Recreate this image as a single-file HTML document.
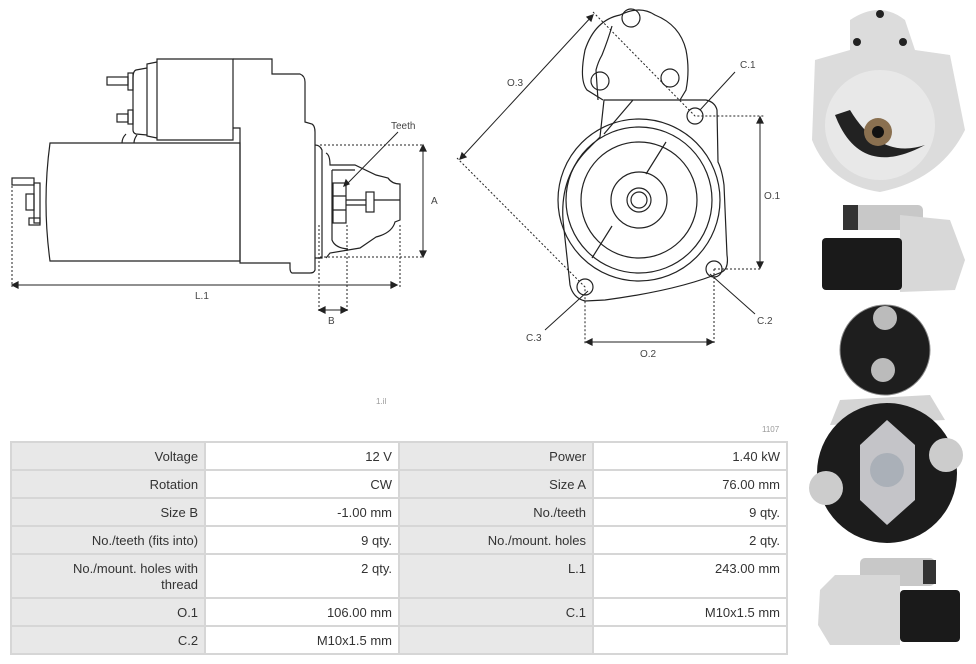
<!DOCTYPE html>
<html><head><meta charset="utf-8"><style>
html,body{margin:0;padding:0;background:#fff;width:976px;height:664px;overflow:hidden;position:relative;font-family:"Liberation Sans",sans-serif}
svg{position:absolute;left:0;top:0}
table{position:absolute;left:10px;top:441px;border-collapse:collapse;width:778px;font-size:13px;color:#333}
td{border:2px solid #d6d6d6;padding:0 6px;text-align:right;height:26px;vertical-align:middle;width:181px}
td.l{background:#e8e8e8}
tr.tall td{height:36px;vertical-align:top;padding-top:6px;line-height:16px}
</style></head><body>
<svg width="976" height="664" viewBox="0 0 976 664" fill="none" stroke="#222" stroke-width="1.2">
<!-- LEFT DRAWING -->
<path d="M50 143 L240 143 L240 261 L50 261 Q42 202 50 143 Z" fill="#fff"/>
<path d="M157 59 L233 59 L233 140 L157 140 Z"/>
<path d="M157 62 L147 64 L147 136 L157 138"/>
<path d="M147 68 L136 70 Q133 71 133 78 L133 130 Q133 133 136 134 L147 135"/>
<rect x="128" y="73" width="5" height="17"/><rect x="107" y="77" width="21" height="8"/>
<rect x="128" y="110" width="5" height="14"/><rect x="117" y="114" width="11" height="8"/>
<path d="M126 134 Q122 138 122 143 M137 135 Q134 139 134 143"/>
<path d="M233 59 L272 59 L272 74 L300 74 Q305 76 305 82 L305 122 L312 124 Q315 126 315 132 L315 270 Q314 273 310 273 L292 273 Q290 272 290 268 L290 263 L240 263 L240 128 L233 128"/>
<path d="M315 145 Q320 145 322 150 L322 258 L315 258"/>
<path d="M326 153 Q330 155 330 165 L355 165 L376 175 L388 178 Q392 184 400 184 L400 220 L395 222 Q392 233 376 237 L360 248 L330 253 Q326 258 326 258"/>
<path d="M332 170 L332 240 Q335 248 348 249 M332 170 L355 170"/>
<rect x="333" y="183" width="13" height="40"/><path d="M333 196 L346 196 M333 210 L346 210"/>
<rect x="366" y="192" width="8" height="20"/><path d="M346 200 L366 200 M346 205 L366 205 M374 200 L400 200"/>
<rect x="34" y="183" width="6" height="40"/><rect x="26" y="194" width="8" height="16"/>
<rect x="12" y="178" width="22" height="7"/><rect x="29" y="218" width="11" height="7"/>
<g stroke-dasharray="2,2" stroke-width="1"><path d="M12 186 L12 287 M320 145 L423 145 M320 257 L423 257 M319 225 L319 312 M347 225 L347 312 M400 225 L400 287"/></g>
<path d="M423 148 L423 254 M13 285 L396 285 M320 310 L345 310" stroke-width="1"/>
<path d="M423 145 l-3 6 h6z M423 257 l-3 -6 h6z M12 285 l6 -3 v6z M397 285 l-6 -3 v6z M319 310 l6 -3 v6z M347 310 l-6 -3 v6z M344 186 l2 -6 l3 4z" fill="#222"/>
<path d="M345 186 L398 132" stroke-width="1"/>
<!-- RIGHT DRAWING -->
<path d="M633 100 L706 100 Q715 102 717 110 L718 162 Q722 170 724 185 L727 255 Q729 268 722 272 Q680 290 605 300 L585 301 Q573 298 570 285 L563 220 Q560 175 590 147 L600 137 L604 100 Z M604 134 L633 100" fill="#fff"/>
<path d="M603 100 L587 90 Q579 80 585 50 Q595 20 620 15 Q640 5 655 15 Q680 25 686 50 Q690 70 686 90 L680 100"/>
<path d="M612 26 Q608 40 602 55 Q598 62 596 70 L598 100" />
<circle cx="631" cy="18" r="9"/><circle cx="600" cy="81" r="9"/><circle cx="670" cy="78" r="9"/>
<circle cx="639" cy="200" r="81"/><circle cx="639" cy="200" r="73"/><circle cx="639" cy="200" r="58"/><circle cx="639" cy="200" r="28"/><circle cx="639" cy="200" r="12"/><circle cx="639" cy="200" r="8"/>
<path d="M666 142 L646 174 M612 226 L592 258"/>
<circle cx="695" cy="116" r="8"/><circle cx="714" cy="269" r="8"/><circle cx="585" cy="287" r="8"/>
<g stroke-dasharray="2,2" stroke-width="1"><path d="M593 12 L695 116 L765 116 M457 158 L585 287 L585 345 M714 269 L762 269 M714 269 L714 345"/></g>
<path d="M760 120 L760 265 M589 342 L710 342 M593 15 L462 157 M700 110 L735 72 M710 274 L755 314 M588 291 L545 330" stroke-width="1"/>
<path d="M760 117 l-3 6 h6z M760 268 l-3 -6 h6z M586 342 l6 -3 v6z M713 342 l-6 -3 v6z M593 15 l-6 2 l4 4z M460 159 l6 -2 l-4 -4z" fill="#222"/>
<g fill="#444" stroke="none" font-size="10" font-family="Liberation Sans,sans-serif">
<text x="391" y="129">Teeth</text><text x="431" y="204">A</text><text x="195" y="299">L.1</text><text x="328" y="324">B</text>
<text x="507" y="86">O.3</text><text x="740" y="68">C.1</text><text x="764" y="199">O.1</text><text x="757" y="324">C.2</text><text x="640" y="357">O.2</text><text x="526" y="341">C.3</text>
<text x="376" y="404" font-size="8" fill="#999">1.il</text><text x="762" y="432" font-size="8" fill="#999">1107</text>
</g>
<!-- PHOTOS -->
<g stroke="none">
<path d="M850 20 Q880 0 905 20 L915 50 L950 55 L965 130 Q940 180 880 192 Q830 185 812 140 L815 60 L850 50 Z" fill="#dcdcdc"/>
<circle cx="880" cy="125" r="55" fill="#e8e8e8"/>
<path d="M835 115 Q860 180 925 145 Q880 160 850 110 Z" fill="#222"/>
<circle cx="878" cy="132" r="14" fill="#8a7050"/><circle cx="878" cy="132" r="6" fill="#111"/>
<circle cx="880" cy="14" r="4" fill="#222"/><circle cx="857" cy="42" r="4" fill="#222"/><circle cx="903" cy="42" r="4" fill="#222"/>
<rect x="843" y="205" width="80" height="25" rx="5" fill="#c8c8c8"/><rect x="843" y="205" width="15" height="25" fill="#333"/>
<path d="M900 215 L950 220 L965 260 L955 290 L900 292 Z" fill="#d8d8d8"/>
<rect x="822" y="238" width="80" height="52" rx="4" fill="#1a1a1a"/>
<circle cx="885" cy="350" r="45" fill="#1e1e1e"/><circle cx="885" cy="350" r="45" fill="none" stroke="#888" stroke-width="1"/>
<circle cx="885" cy="318" r="12" fill="#bbb"/><circle cx="883" cy="370" r="12" fill="#bbb"/>
<path d="M840 400 L930 395 L945 420 L830 425 Z" fill="#d4d4d4"/>
<circle cx="887" cy="473" r="70" fill="#1c1c1c"/>
<path d="M887 420 L915 445 L915 500 L887 525 L860 500 L860 445 Z" fill="#c4c4c8"/>
<circle cx="887" cy="470" r="17" fill="#aab0b8"/>
<circle cx="826" cy="488" r="17" fill="#ccc"/><circle cx="946" cy="455" r="17" fill="#ccc"/>
<rect x="860" y="558" width="75" height="28" rx="5" fill="#c8c8c8"/><rect x="923" y="560" width="13" height="24" fill="#333"/>
<path d="M820 590 L835 575 L900 575 L900 645 L830 645 L818 625 Z" fill="#d8d8d8"/>
<rect x="900" y="590" width="60" height="52" rx="4" fill="#1a1a1a"/>
</g>
</svg>
<table>
<tr><td class="l">Voltage</td><td>12 V</td><td class="l">Power</td><td>1.40 kW</td></tr>
<tr><td class="l">Rotation</td><td>CW</td><td class="l">Size A</td><td>76.00 mm</td></tr>
<tr><td class="l">Size B</td><td>-1.00 mm</td><td class="l">No./teeth</td><td>9 qty.</td></tr>
<tr><td class="l">No./teeth (fits into)</td><td>9 qty.</td><td class="l">No./mount. holes</td><td>2 qty.</td></tr>
<tr class="tall"><td class="l">No./mount. holes with<br>thread</td><td>2 qty.</td><td class="l">L.1</td><td>243.00 mm</td></tr>
<tr><td class="l">O.1</td><td>106.00 mm</td><td class="l">C.1</td><td>M10x1.5 mm</td></tr>
<tr><td class="l">C.2</td><td>M10x1.5 mm</td><td class="l"></td><td></td></tr>
</table>
</body></html>
